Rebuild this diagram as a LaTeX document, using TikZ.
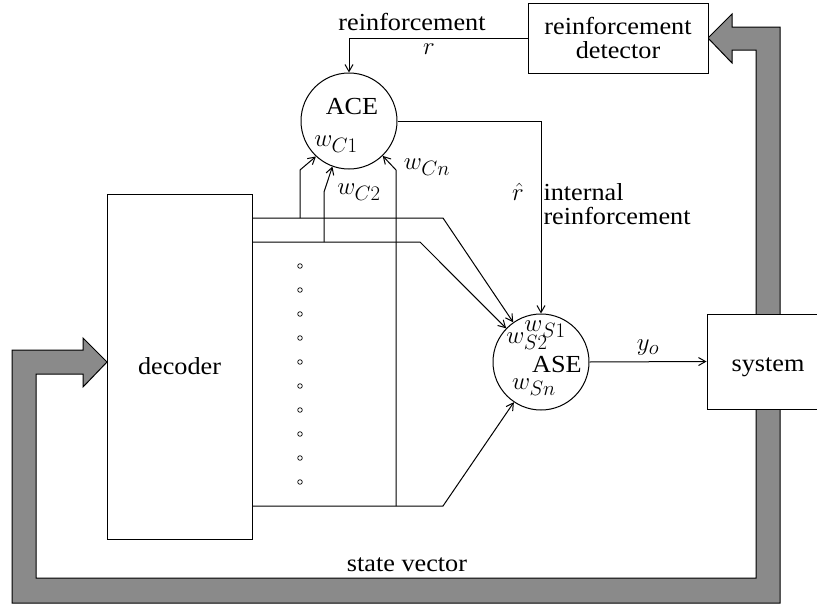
\documentclass[tikz,border=0pt]{standalone}
\usepackage{fontspec}
\setmainfont{Liberation Serif}[FakeStretch=1.07]
\usetikzlibrary{arrows.meta}
\definecolor{bandgray}{RGB}{138,138,138}
\begin{document}
\begin{tikzpicture}[x=1pt,y=-1pt, line width=1pt,
  >={Straight Barb[length=7pt,width=8pt]},
  every node/.style={font=\fontsize{24.5}{24}\selectfont},
  box/.style={draw, fill=white, inner sep=0pt},
  unit/.style={draw, circle, minimum size=96pt, inner sep=0pt},
  lbl/.style={inner sep=0pt, anchor=center},
  mlbl/.style={inner sep=0pt, anchor=center, font=\fontsize{28}{28}\selectfont},
  dotc/.style={draw, circle, minimum size=4.6pt, inner sep=0pt, line width=0.7pt}]
\useasboundingbox (0,0) rectangle (817,605);
\clip (0,0) rectangle (817,605);
% thick feedback band
\draw[fill=bandgray] (107,362) -- (83,338) -- (83,350) -- (12,350) -- (12,603)
  -- (780,603) -- (780,27) -- (732,27) -- (732,14) -- (708,38) -- (732,63)
  -- (732,50) -- (756,50) -- (756,578) -- (36,578) -- (36,374) -- (83,374)
  -- (83,387) -- cycle;
% boxes
\node[box, minimum width=180pt, minimum height=70pt, align=center] (det) at (618,38) {reinforcement\\detector};
\node[box, minimum width=145pt, minimum height=345pt] (dec) at (179.5,366.5) {decoder};
\node[box, minimum width=122pt, minimum height=95pt] (sys) at (768,361.5) {};
\node[unit] (ace) at (349,121) {};
\node[unit] (ase) at (541,362) {};
% junction coordinates
\coordinate (b1) at (443,218);
\coordinate (b2) at (420,242);
\coordinate (b3) at (443,506);
\coordinate (j1) at (300,218);
\coordinate (k1) at (300,170);
\coordinate (j2) at (324,242);
\coordinate (k2) at (324,192);
\coordinate (j3) at (396,506);
\coordinate (k3) at (396,170);
% decoder outputs to ASE
\draw[->] (dec.east |- b1) -- (b1) -- (ase.125);
\draw[->] (dec.east |- b2) -- (b2) -- (ase.136);
\draw[->] (dec.east |- b3) -- (b3) -- (ase.236);
% taps to ACE
\draw[->] (j1) -- (k1) -- (ace.227);
\draw[->] (j2) -- (k2) -- (ace.250);
\draw[->] (j3) -- (k3) -- (ace.314);
% other connectors
\draw[->] (det.west) -| (ace.north);
\draw[->] (ace.east) -| (ase.north);
\draw[->] (ase.east) -- (sys.west);
% dots
\foreach \i in {0,...,9} \node[dotc] (d\i) at (300,266+24*\i) {};
% labels
\node[lbl] (lsys) at (768,367) {system};
\node[lbl] (lrein) at (412,22) {reinforcement};
\node[mlbl] (lr) at (429,49) {$r$};
\node[lbl] (lace) at (352,107) {ACE};
\node[mlbl] (lwc1) at (336,144) {$w_{C1}$};
\node[mlbl] (lwcn) at (427,167) {$w_{Cn}$};
\node[mlbl] (lwc2) at (359,192) {$w_{C2}$};
\node[mlbl] (lrhat) at (518,192) {$\hat{r}$};
\node[inner sep=0pt, anchor=north west, align=left] (lint) at (543,183) {internal\\reinforcement};
\node[lbl] (lase) at (557,365) {ASE};
\node[mlbl] (lws1) at (545,329) {$w_{S1}$};
\node[mlbl] (lws2) at (527,341) {$w_{S2}$};
\node[mlbl] (lwsn) at (534,387) {$w_{Sn}$};
\node[mlbl] (lyo) at (648,348) {$y_o$};
\node[lbl] (lsv) at (407,565) {state vector};
\end{tikzpicture}
\end{document}
